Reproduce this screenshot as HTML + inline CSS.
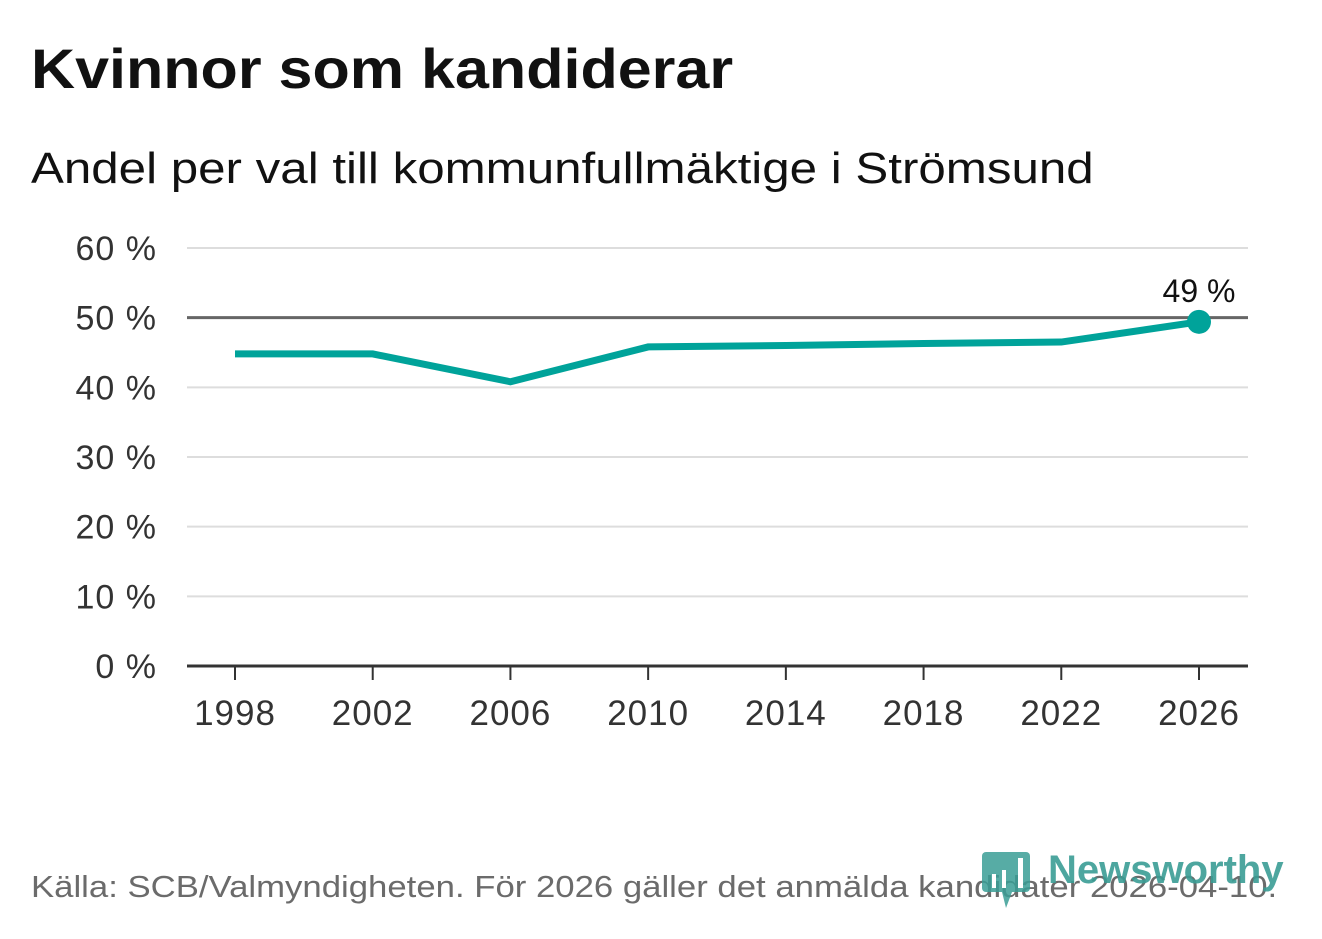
<!DOCTYPE html>
<html><head><meta charset="utf-8"><style>
body{margin:0;width:1322px;height:939px;background:#fff;font-family:"Liberation Sans","DejaVu Sans",sans-serif;overflow:hidden;position:relative}
.t{position:absolute;white-space:nowrap;transform-origin:0 0}
</style></head><body>
<div class="t" style="left:31px;top:36px;font-size:56px;font-weight:bold;color:#111;transform:scaleX(1.09)">Kvinnor som kandiderar</div>
<div class="t" style="left:31px;top:144px;font-size:44px;color:#111;transform:scaleX(1.12)">Andel per val till kommunfullmäktige i Strömsund</div>
<svg id="c" width="1322" height="939" style="position:absolute;left:0;top:0"></svg>
<div class="t" style="left:31px;top:869px;font-size:31px;color:#6b6b6b;transform:scaleX(1.12)">Källa: SCB/Valmyndigheten. För 2026 gäller det anmälda kandidater 2026-04-10.</div>
<div style="position:absolute;left:982px;top:852px">
<svg width="50" height="56"><rect x="0" y="0" width="48" height="40" rx="4" fill="#3a9d95" opacity="0.85"/><path d="M20 40 L30 40 L24 56 Z" fill="#3a9d95" opacity="0.85"/><rect x="10" y="22" width="4" height="14" fill="#fff"/><rect x="20" y="18" width="4" height="18" fill="#fff"/><rect x="36" y="6" width="5" height="30" fill="#fff"/></svg>
<span style="position:absolute;left:66px;top:-4px;font-size:40px;font-weight:bold;color:#3a9d95;opacity:0.9;display:inline-block;transform:scaleX(1.0)">Newsworthy</span>
</div>
<script>
const years=[1998,2002,2006,2010,2014,2018,2022,2026];
const values=[44.8,44.8,40.8,45.8,46.0,46.3,46.5,49.4];
const yTicks=[0,10,20,30,40,50,60];
const xTicks=[1998,2002,2006,2010,2014,2018,2022,2026];
const ns="http://www.w3.org/2000/svg";
const svg=document.getElementById('c');
const x=v=>235+(v-1998)*(1199-235)/28;
const y=v=>666-v*(666-248)/60;
function mk(t,a){const e=document.createElementNS(ns,t);for(const k in a)e.setAttribute(k,a[k]);svg.appendChild(e);return e;}
yTicks.forEach(v=>{
 const l=mk('line',{x1:187,x2:1248,y1:y(v),y2:y(v),stroke:v==50?'#666':(v==0?'#333':'#ddd'),'stroke-width':v==0?3:(v==50?3:2)});
 
 
 const t=mk('text',{x:157,y:y(v)+12,'text-anchor':'end','font-size':34,'letter-spacing':1,fill:'#333'});
 t.textContent=v+' %';
 
 
});
xTicks.forEach(v=>{
 const l=mk('line',{x1:x(v),x2:x(v),y1:666,y2:680,stroke:'#333','stroke-width':2});
 
 
 const t=mk('text',{x:x(v),y:725,'text-anchor':'middle','font-size':35,'letter-spacing':1,fill:'#333'});
 t.textContent=v;
 
 
});
const p=mk('polyline',{points:years.map((yr,i)=>x(yr)+','+y(values[i])).join(' '),fill:'none',stroke:'#00a39a','stroke-width':7,'stroke-linejoin':'miter'});


const n=years.length-1;
const d=mk('circle',{cx:x(years[n]),cy:y(values[n]),r:12,fill:'#00a39a'});


const lb=mk('text',{x:x(years[n]),y:y(values[n])-20,'text-anchor':'middle','font-size':32,fill:'#111'});
lb.textContent=Math.round(values[n])+' %';


</script>
</body></html>
